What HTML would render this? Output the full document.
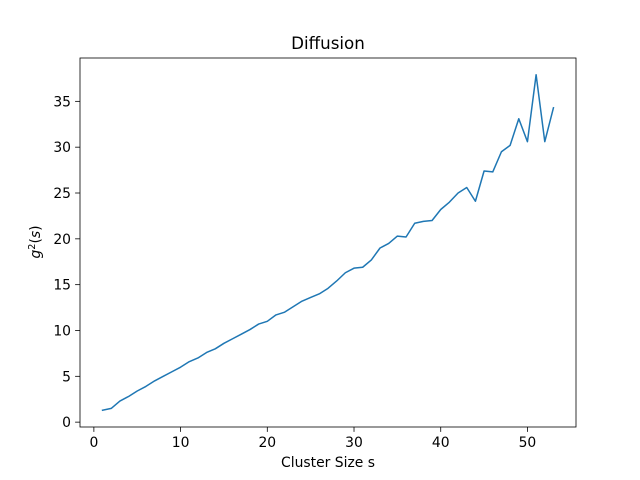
<!DOCTYPE html>
<html><head><meta charset="utf-8"><style>
html,body{margin:0;padding:0;background:#fff;}
svg{display:block;font-family:"DejaVu Sans","Liberation Sans",sans-serif;}
</style></head><body>
<svg id="chart" width="640" height="480"></svg>
<script>
const xValues = [1,2,3,4,5,6,7,8,9,10,11,12,13,14,15,16,17,18,19,20,21,22,23,24,25,26,27,28,29,30,31,32,33,34,35,36,37,38,39,40,41,42,43,44,45,46,47,48,49,50,51,52,53];
const yValues = [1.3,1.5,2.3,2.8,3.4,3.9,4.5,5.0,5.5,6.0,6.6,7.0,7.6,8.0,8.6,9.1,9.6,10.1,10.7,11.0,11.7,12.0,12.6,13.2,13.6,14.0,14.6,15.4,16.3,16.8,16.9,17.7,19.0,19.5,20.3,20.2,21.7,21.9,22.0,23.2,24.0,25.0,25.6,24.1,27.4,27.3,29.5,30.2,33.1,30.6,37.9,30.6,34.3];
const xTicks = [0,10,20,30,40,50];
const yTicks = [0,5,10,15,20,25,30,35];

const NS = "http://www.w3.org/2000/svg";
const svg = document.getElementById('chart');
const L = 80, R = 576, T = 58, B = 427;
const xmin0 = Math.min(...xValues), xmax0 = Math.max(...xValues);
const ymin0 = Math.min(...yValues), ymax0 = Math.max(...yValues);
const xpad = (xmax0 - xmin0) * 0.05, ypad = (ymax0 - ymin0) * 0.05;
const xmin = xmin0 - xpad, xmax = xmax0 + xpad, ymin = ymin0 - ypad, ymax = ymax0 + ypad;
const sx = v => L + (v - xmin) / (xmax - xmin) * (R - L);
const sy = v => B - (v - ymin) / (ymax - ymin) * (B - T);

function mk(tag, attrs, parent) {
  const e = document.createElementNS(NS, tag);
  for (const k in attrs) e.setAttribute(k, attrs[k]);
  (parent || svg).appendChild(e);
  return e;
}

const pts = xValues.map((x, i) => sx(x).toFixed(2) + ',' + sy(yValues[i]).toFixed(2)).join(' ');
const line = mk('polyline', {points: pts, fill: 'none', stroke: '#1f77b4', 'stroke-width': 1.5, 'stroke-linejoin': 'round', 'stroke-linecap': 'square'});



const frame = mk('rect', {x: L, y: T, width: R - L, height: B - T, fill: 'none', stroke: '#000', 'stroke-width': 0.8});



xTicks.forEach(t => {
  const x = sx(t);
  const tk = mk('line', {x1: x, x2: x, y1: B, y2: B + 4.9, stroke: '#000', 'stroke-width': 0.8});
  
  
  const tx = mk('text', {x: x, y: B + 20, 'text-anchor': 'middle', 'font-size': 13.9, fill: '#000'});
  tx.textContent = t;
  
  
});
yTicks.forEach(t => {
  const y = sy(t);
  const tk = mk('line', {x1: L - 4.9, x2: L, y1: y, y2: y, stroke: '#000', 'stroke-width': 0.8});
  
  
  const tx = mk('text', {x: L - 9, y: y + 5, 'text-anchor': 'end', 'font-size': 13.9, fill: '#000'});
  tx.textContent = t;
  
  
});
</script>
<div style="position:absolute;left:0;top:0;width:640px;height:480px;pointer-events:none;">
<svg width="640" height="480" style="font-family:'DejaVu Sans','Liberation Sans',sans-serif;">
<text x="328" y="49" text-anchor="middle" font-size="16.7">Diffusion</text>
<text x="328" y="467" text-anchor="middle" font-size="13.9">Cluster Size s</text>
<text transform="translate(40,242) rotate(-90)" text-anchor="middle" font-size="13.9"><tspan font-style="italic">g</tspan><tspan font-size="9.7" dy="-5">2</tspan><tspan dy="5">(</tspan><tspan font-style="italic">s</tspan><tspan>)</tspan></text>
</svg></div>
</body></html>
